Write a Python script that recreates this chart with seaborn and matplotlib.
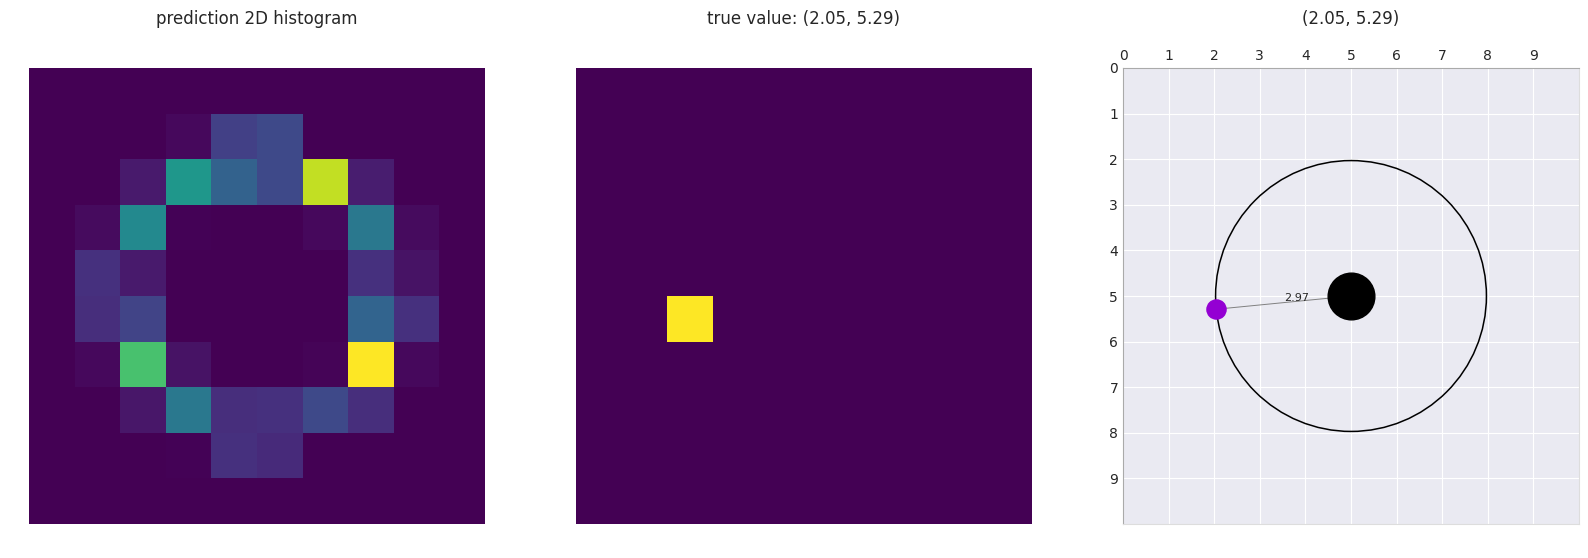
import numpy as np
import matplotlib
matplotlib.use("Agg")
import matplotlib.pyplot as plt
import seaborn as sns

# predicted 2D histogram (rows = y cell, cols = x cell), normalised to max
pred_hist = [
    [0, 0, 0, 0, 0, 0, 0, 0, 0, 0],
    [0, 0, 0, 0.02, 0.19, 0.22, 0, 0, 0, 0],
    [0, 0, 0.07, 0.53, 0.31, 0.22, 0.91, 0.08, 0, 0],
    [0, 0.03, 0.47, 0.005, 0, 0, 0.02, 0.40, 0.03, 0],
    [0, 0.14, 0.07, 0, 0, 0, 0, 0.14, 0.05, 0],
    [0, 0.13, 0.20, 0, 0, 0, 0, 0.32, 0.14, 0],
    [0, 0.02, 0.71, 0.05, 0, 0, 0.01, 1.0, 0.02, 0],
    [0, 0, 0.06, 0.40, 0.13, 0.14, 0.22, 0.13, 0, 0],
    [0, 0, 0, 0.005, 0.14, 0.12, 0, 0, 0, 0],
    [0, 0, 0, 0, 0, 0, 0, 0, 0, 0],
]

true_x, true_y = 2.05, 5.29
center = (5, 5)
dist = 2.97
grid_n = 10

true_grid = np.zeros((grid_n, grid_n))
true_grid[int(true_y), int(true_x)] = 1.0

sns.set_style("darkgrid")

fig = plt.figure(figsize=(15.88, 5.58), dpi=100)
W, H = 1588, 558


def rect(x0, y0, w, h):
    return [x0 / W, 1 - (y0 + h) / H, w / W, h / H]


title_y = 1 + (68 - 32) / 456

ax1 = fig.add_axes(rect(29, 68, 456, 456))
sns.heatmap(np.array(pred_hist), cmap="viridis", cbar=False, ax=ax1,
            xticklabels=False, yticklabels=False)
ax1.axis("off")
ax1.set_title("prediction 2D histogram", fontsize=12, y=title_y)

ax2 = fig.add_axes(rect(576, 68, 456, 456))
sns.heatmap(true_grid, cmap="viridis", cbar=False, ax=ax2,
            xticklabels=False, yticklabels=False)
ax2.axis("off")
ax2.set_title(f"true value: ({true_x}, {true_y})", fontsize=12, y=title_y)

ax3 = fig.add_axes(rect(1123, 68, 456, 456))
ax3.set_xlim(0, grid_n)
ax3.set_ylim(grid_n, 0)
ax3.set_xticks(range(grid_n))
ax3.set_yticks(range(grid_n))
ax3.xaxis.tick_top()
ax3.tick_params(length=0, labelsize=10)
for side in ("left", "top"):
    ax3.spines[side].set_color("#aaaaaa")
for side in ("right", "bottom"):
    ax3.spines[side].set_color("#dddddd")

ax3.add_patch(plt.Circle(center, dist, fill=False, color="black", lw=1.1))
ax3.plot([true_x, center[0]], [true_y, center[1]], color="gray", lw=0.7)
ax3.scatter([center[0]], [center[1]], s=1130, color="black", zorder=3)
ax3.scatter([true_x], [true_y], s=190, color="darkviolet", zorder=4)
ax3.text((true_x + center[0]) / 2, (true_y + center[1]) / 2, f"{dist:.2f}",
         fontsize=8, color=".15", ha="left", va="bottom")
ax3.set_title(f"({true_x}, {true_y})", fontsize=12, y=title_y)

fig.savefig("out.png", dpi=100)
